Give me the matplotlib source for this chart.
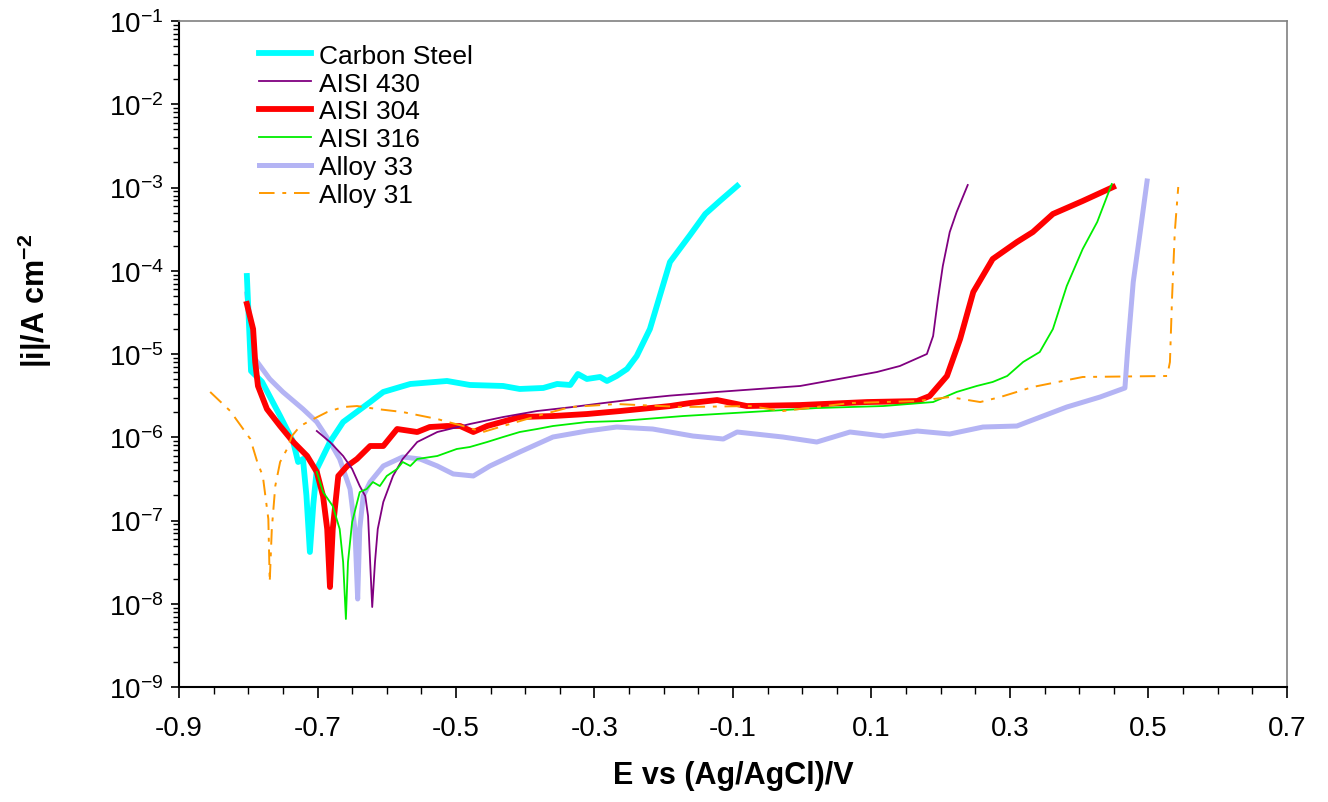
import numpy as np
import matplotlib
matplotlib.use("Agg")
import matplotlib.pyplot as plt
from matplotlib.ticker import MultipleLocator, LogLocator, NullFormatter, FixedLocator

plt.rcParams['font.family'] = ['Liberation Sans', 'DejaVu Sans']
plt.rcParams['mathtext.fontset'] = 'custom'
plt.rcParams['mathtext.rm'] = 'Liberation Sans'
plt.rcParams['mathtext.bf'] = 'Liberation Sans:bold'

# potentials (V vs Ag/AgCl) and log10 of |i| (A cm-2)
cs_E = [-0.802, -0.796, -0.780, -0.754, -0.735, -0.728, -0.721, -0.716, -0.711, -0.706, -0.701,
        -0.682, -0.663, -0.624, -0.605, -0.566, -0.513, -0.480, -0.432, -0.408, -0.374, -0.354,
        -0.335, -0.324, -0.311, -0.292, -0.282, -0.268, -0.253, -0.239, -0.220, -0.191, -0.162,
        -0.140, -0.119, -0.094]
cs_logi = [-4.063, -5.204, -5.336, -5.745, -6.057, -6.297, -6.261, -6.70, -7.378, -6.80, -6.381,
           -6.057, -5.817, -5.577, -5.456, -5.360, -5.324, -5.372, -5.384, -5.420, -5.408, -5.360,
           -5.372, -5.240, -5.300, -5.276, -5.324, -5.264, -5.180, -5.024, -4.700, -3.895, -3.571,
           -3.318, -3.162, -2.982]

a430_E = [-0.701, -0.682, -0.663, -0.650, -0.639, -0.631, -0.627, -0.624, -0.621, -0.617, -0.613,
          -0.605, -0.591, -0.577, -0.556, -0.527, -0.480, -0.432, -0.383, -0.335, -0.288, -0.239,
          -0.191, -0.123, -0.003, 0.069, 0.108, 0.141, 0.180, 0.189, 0.196, 0.203, 0.213, 0.223, 0.239]
a430_logi = [-5.925, -6.057, -6.225, -6.381, -6.586, -6.706, -6.946, -7.499, -8.039, -7.499, -7.102,
             -6.778, -6.465, -6.261, -6.057, -5.937, -5.841, -5.757, -5.685, -5.640, -5.590, -5.540,
             -5.500, -5.456, -5.384, -5.276, -5.216, -5.144, -5.000, -4.784, -4.339, -3.943, -3.535,
             -3.294, -2.970]

a304_E = [-0.802, -0.793, -0.790, -0.786, -0.773, -0.754, -0.735, -0.715, -0.701, -0.692, -0.686,
          -0.682, -0.678, -0.670, -0.657, -0.643, -0.624, -0.605, -0.585, -0.556, -0.538, -0.513,
          -0.494, -0.475, -0.455, -0.408, -0.360, -0.311, -0.263, -0.191, -0.162, -0.123, -0.080,
          -0.003, 0.094, 0.166, 0.184, 0.209, 0.228, 0.247, 0.275, 0.310, 0.333, 0.362, 0.405, 0.449]
a304_logi = [-4.399, -4.700, -5.096, -5.384, -5.661, -5.865, -6.057, -6.225, -6.417, -6.706, -7.102,
             -7.799, -7.102, -6.465, -6.345, -6.261, -6.105, -6.105, -5.901, -5.937, -5.877, -5.865,
             -5.865, -5.937, -5.865, -5.757, -5.745, -5.721, -5.685, -5.625, -5.589, -5.553, -5.625,
             -5.613, -5.577, -5.565, -5.505, -5.264, -4.820, -4.255, -3.859, -3.655, -3.535, -3.318,
             -3.162, -2.994]

a316_E = [-0.701, -0.692, -0.678, -0.668, -0.663, -0.659, -0.656, -0.650, -0.639, -0.629, -0.620,
          -0.610, -0.600, -0.585, -0.577, -0.566, -0.556, -0.527, -0.499, -0.480, -0.455, -0.432,
          -0.408, -0.383, -0.360, -0.311, -0.263, -0.172, -0.075, 0.021, 0.117, 0.189, 0.223, 0.252,
          0.275, 0.296, 0.319, 0.343, 0.362, 0.382, 0.405, 0.426, 0.447]
a316_logi = [-6.417, -6.658, -6.826, -7.102, -7.499, -8.183, -7.499, -7.018, -6.658, -6.622, -6.538,
             -6.586, -6.465, -6.381, -6.297, -6.345, -6.261, -6.225, -6.141, -6.117, -6.057, -5.997,
             -5.937, -5.901, -5.865, -5.817, -5.805, -5.745, -5.697, -5.649, -5.625, -5.577, -5.456,
             -5.384, -5.336, -5.264, -5.096, -4.976, -4.700, -4.183, -3.739, -3.414, -2.958]

a33_E = [-0.802, -0.793, -0.787, -0.769, -0.750, -0.721, -0.701, -0.682, -0.668, -0.653, -0.646,
         -0.642, -0.639, -0.634, -0.624, -0.605, -0.577, -0.552, -0.527, -0.504, -0.475, -0.451,
         -0.408, -0.360, -0.311, -0.268, -0.216, -0.158, -0.114, -0.094, -0.028, 0.021, 0.069,
         0.117, 0.166, 0.213, 0.261, 0.310, 0.325, 0.382, 0.430, 0.466, 0.470, 0.478, 0.488, 0.498]
a33_logi = [-4.279, -5.024, -5.096, -5.300, -5.456, -5.661, -5.817, -6.057, -6.261, -6.622, -7.102,
            -7.943, -7.102, -6.706, -6.538, -6.345, -6.237, -6.261, -6.345, -6.441, -6.465, -6.345,
            -6.177, -5.997, -5.925, -5.877, -5.901, -5.985, -6.021, -5.937, -5.997, -6.057, -5.937,
            -5.985, -5.925, -5.961, -5.877, -5.865, -5.817, -5.637, -5.517, -5.408, -4.940, -4.135,
            -3.535, -2.922]

a31_E = [-0.855, -0.826, -0.797, -0.787, -0.779, -0.771, -0.769, -0.766, -0.761, -0.754, -0.744,
         -0.737, -0.725, -0.706, -0.686, -0.663, -0.643, -0.614, -0.577, -0.527, -0.490, -0.461,
         -0.432, -0.383, -0.335, -0.268, -0.172, -0.075, -0.028, 0.069, 0.166, 0.213, 0.257, 0.286,
         0.333, 0.405, 0.527, 0.531, 0.534, 0.538, 0.543]
a31_logi = [-5.456, -5.685, -6.021, -6.297, -6.465, -6.982, -7.739, -7.102, -6.586, -6.297, -6.141,
            -5.985, -5.865, -5.781, -5.697, -5.637, -5.625, -5.661, -5.697, -5.781, -5.865, -5.937,
            -5.865, -5.745, -5.637, -5.601, -5.637, -5.625, -5.685, -5.589, -5.565, -5.517, -5.577,
            -5.517, -5.396, -5.276, -5.264, -5.096, -4.339, -3.535, -2.994]

labels = ["Carbon Steel", "AISI 430", "AISI 304", "AISI 316", "Alloy 33", "Alloy 31"]
x_ticks = [-0.9, -0.7, -0.5, -0.3, -0.1, 0.1, 0.3, 0.5, 0.7]


fig = plt.figure(figsize=(13.28, 8.03), dpi=100)
ax = fig.add_axes([0.1348, 0.1432, 0.8343, 0.8294])

ax.plot(cs_E, 10 ** np.array(cs_logi), color="#00ffff", lw=4.2, label=labels[0], zorder=2)
ax.plot(a430_E, 10 ** np.array(a430_logi), color="#800080", lw=1.3, label=labels[1], zorder=3)
ax.plot(a304_E, 10 ** np.array(a304_logi), color="#ff0000", lw=4.2, label=labels[2], zorder=2)
ax.plot(a316_E, 10 ** np.array(a316_logi), color="#00ee00", lw=1.3, label=labels[3], zorder=3)
ax.plot(a33_E, 10 ** np.array(a33_logi), color="#b4b4f4", lw=3.6, label=labels[4], zorder=1)
ax.plot(a31_E, 10 ** np.array(a31_logi), color="#ff9900", lw=1.4, label=labels[5], zorder=3,
        dashes=(8, 4, 2, 4))

ax.set_yscale("log")
ax.set_ylim(1e-9, 1e-1)
ax.set_xlim(-0.9, 0.7)
ax.xaxis.set_major_locator(FixedLocator(x_ticks))
ax.xaxis.set_minor_locator(MultipleLocator(0.05))
ax.set_xticklabels([f"{v:.1f}" for v in x_ticks])
ax.yaxis.set_major_locator(LogLocator(base=10, numticks=20))
ax.yaxis.set_minor_locator(LogLocator(base=10, subs=np.arange(2, 10), numticks=20))
ax.yaxis.set_minor_formatter(NullFormatter())

ax.tick_params(axis="x", which="major", length=8, width=1.2, direction="out", labelsize=20, pad=12)
ax.tick_params(axis="x", which="minor", length=5, width=1.0, direction="out")
ax.tick_params(axis="y", which="major", length=6, width=1.2, direction="out", labelsize=20, pad=5)
ax.tick_params(axis="y", which="minor", length=4, width=1.0, direction="out")

for side in ["top", "right"]:
    ax.spines[side].set_color("#808080")
    ax.spines[side].set_linewidth(1.2)
for side in ["left", "bottom"]:
    ax.spines[side].set_linewidth(1.5)

ax.set_xlabel("E vs (Ag/AgCl)/V", fontsize=22, fontweight="bold", labelpad=14)
ax.set_ylabel(r"|i|/A cm$^{\mathbf{-2}}$", fontsize=22, fontweight="bold")
ax.yaxis.set_label_coords(-0.113, 0.581)

ax.legend(loc="upper left", bbox_to_anchor=(0.063, 0.982), frameon=False, fontsize=19,
          handlelength=1.96, handletextpad=0.3, labelspacing=0.15, borderaxespad=0)

fig.savefig("out.png", dpi=100)
